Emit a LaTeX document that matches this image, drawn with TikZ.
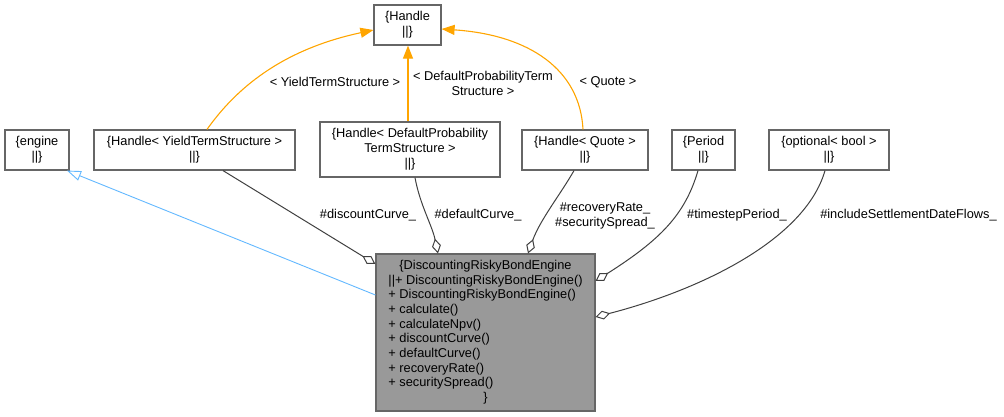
\documentclass[tikz,border=0pt]{standalone}
\usepackage{fontspec}
\setmainfont{Liberation Sans}
\usetikzlibrary{arrows.meta}
\definecolor{boxline}{HTML}{666666}
\definecolor{mainfill}{HTML}{999999}
\definecolor{edgedark}{HTML}{404040}
\definecolor{tmplorange}{HTML}{FFA500}
\definecolor{inhblue}{HTML}{63B8FF}
\tikzset{
  cls/.style={draw=boxline, line width=1.2pt, fill=white, inner sep=0pt, align=center,
    font=\fontsize{12.8}{15}\selectfont},
  mainbox/.style={draw=boxline, line width=1.2pt, fill=mainfill, inner sep=0pt,
    minimum width=219pt, minimum height=157pt, font=\fontsize{12.8}{14.67}\selectfont},
  lbl/.style={inner sep=0pt, align=center, font=\fontsize{12.8}{15}\selectfont},
  comp/.style={draw=edgedark, line width=1pt, -{Diamond[open, length=15pt, width=9pt, line width=1pt]}},
  tmpl/.style={draw=tmplorange, line width=1.1pt, -{Triangle[length=13pt, width=10pt]}, tmplorange},
  inherit/.style={draw=inhblue, line width=0.9pt, -{Triangle[open, length=14pt, width=10pt, line width=0.9pt]}},
}
\begin{document}
\begin{tikzpicture}[x=1pt, y=-1pt]
\useasboundingbox (0,0) rectangle (1004,417);
% class boxes
\node[cls, minimum width=67pt, minimum height=40pt] (handle) at (407.5,25) {\{Handle\\\textbar\textbar\}};
\node[cls, minimum width=64pt, minimum height=40pt] (engine) at (37,150) {\{engine\\\textbar\textbar\}};
\node[cls, minimum width=201pt, minimum height=40pt] (yts) at (194.5,150) {\{Handle< YieldTermStructure >\\\textbar\textbar\}};
\node[cls, minimum width=180pt, minimum height=55pt] (dpts) at (410,149.5) {\{Handle< DefaultProbability\\TermStructure >\\\textbar\textbar\}};
\node[cls, minimum width=126pt, minimum height=40pt] (quote) at (585,150) {\{Handle< Quote >\\\textbar\textbar\}};
\node[cls, minimum width=63pt, minimum height=40pt] (period) at (703.5,150) {\{Period\\\textbar\textbar\}};
\node[cls, minimum width=120pt, minimum height=40pt] (opt) at (829,150) {\{optional< bool >\\\textbar\textbar\}};
\node[mainbox] (main) at (485.5,332.5) {%
  \renewcommand\arraystretch{1}%
  \begin{tabular}{@{}l@{}}
  \multicolumn{1}{@{}c@{}}{\{DiscountingRiskyBondEngine}\\
  \textbar\textbar+ DiscountingRiskyBondEngine()\\
  + DiscountingRiskyBondEngine()\\
  + calculate()\\
  + calculateNpv()\\
  + discountCurve()\\
  + defaultCurve()\\
  + recoveryRate()\\
  + securitySpread()\\
  \multicolumn{1}{@{}c@{}}{\}}
  \end{tabular}};
% inheritance
\draw[inherit] ([yshift=37.5pt]main.west) -- ([xshift=30pt]engine.south);
% composition edges
\draw[comp] ([xshift=28.5pt]yts.south) -- ([yshift=68.5pt]main.west);
\draw[comp] ([xshift=5pt]dpts.south) .. controls (420,205) and (432,225) .. ([xshift=-47.5pt]main.north);
\draw[comp] ([xshift=-11pt]quote.south) .. controls (560,195) and (540,220) .. ([xshift=42.5pt]main.north);
\draw[comp] ([xshift=-5.5pt]period.south) .. controls (685,215) and (660,240) .. ([yshift=51.5pt]main.east);
\draw[comp] ([xshift=-4pt]opt.south) .. controls (805,240) and (700,290) .. ([yshift=15.5pt]main.east);
% template edges
\draw[tmpl] ([xshift=12.5pt]yts.north) .. controls (235,90) and (280,50) .. ([yshift=-5pt]handle.west);
\draw[tmpl] ([xshift=-2pt]dpts.north) -- ([xshift=0.5pt]handle.south);
\draw[tmpl] ([xshift=-2pt]quote.north) .. controls (580,70) and (530,35) .. ([yshift=-4pt]handle.east);
% labels
\node[lbl] (l1) at (368,215) {\#discountCurve\_};
\node[lbl] (l2) at (478,215) {\#defaultCurve\_};
\node[lbl] (l3) at (605,216) {\#recoveryRate\_\\\#securitySpread\_};
\node[lbl] (l4) at (737,215) {\#timestepPeriod\_};
\node[lbl] (l5) at (908.5,215) {\#includeSettlementDateFlows\_};
\node[lbl] (l6) at (335,82) {< YieldTermStructure >};
\node[lbl] (l7) at (483,83) {< DefaultProbabilityTerm\\Structure >};
\node[lbl] (l8) at (608,82) {< Quote >};
\end{tikzpicture}
\end{document}
